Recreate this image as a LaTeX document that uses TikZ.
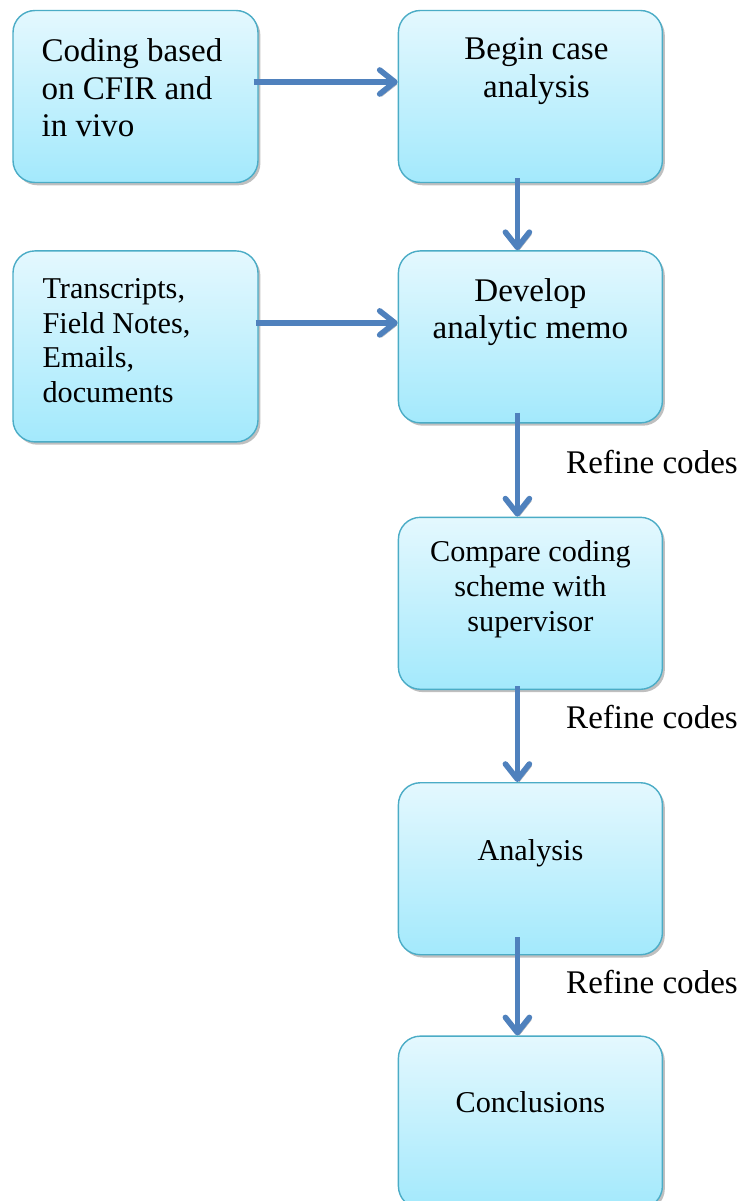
\documentclass[tikz,border=0pt]{standalone}
\usepackage{fontspec}
\setmainfont{Liberation Serif}
\usetikzlibrary{arrows.meta, positioning, shadows}
\definecolor{cTop}{RGB}{228,248,254}
\definecolor{cBottom}{RGB}{163,233,252}
\definecolor{cBorder}{RGB}{75,172,198}
\definecolor{cArrow}{RGB}{79,129,189}
\newcommand{\stagefont}{\fontsize{23.5}{26.5}\selectfont}
\newcommand{\smallstagefont}{\fontsize{21.5}{24.6}\selectfont}
\tikzset{
    stage/.style    ={rectangle, rounded corners=0.55cm, minimum width=6.6cm, minimum height=4.3cm, draw=cBorder, line width=1pt, top color=cTop, bottom color=cBottom, drop shadow={shadow xshift=0.06cm, shadow yshift=-0.07cm, fill=black!50, opacity=0.5}},
    stagetext/.style={inner sep=0pt, align=center, font=\stagefont},
    note/.style     ={inner sep=0pt, font=\stagefont},
    flowarrow/.style={draw=cArrow, line width=4pt, -{Straight Barb[length=3.8mm, width=6mm, round]}, preaction={draw=black!30, transform canvas={xshift=0.05cm, yshift=-0.06cm}}},
}

\begin{document}
\begin{tikzpicture}
    \useasboundingbox (0,0) rectangle (18.5,-30.025);
    % boxes
    \node[stage, minimum width=6.125cm] (coding) at (3.3875,-2.4125) {};
    \node[stage, right=3.475cm of coding] (begin) {};
    \node[stage, minimum width=6.125cm, minimum height=4.775cm, below=1.675cm of coding] (sources) {};
    \node[stage, below=1.675cm of begin] (memo) {};
    \node[stage, below=2.325cm of memo] (compare) {};
    \node[stage, below=2.3cm of compare] (analysis) {};
    \node[stage, below=2.0cm of analysis] (conclusions) {};
    % box texts
    \node[stagetext, align=left, below right=0.72cm and 0.725cm of coding.north west] (codingText) {Coding based\\on CFIR and\\in vivo};
    \node[stagetext, below=0.7cm of begin.north, xshift=0.15cm] (beginText) {Begin case\\analysis};
    \node[stagetext, align=left, font=\smallstagefont, below right=0.7cm and 0.75cm of sources.north west] (sourcesText) {Transcripts,\\Field Notes,\\Emails,\\documents};
    \node[stagetext, below=0.7cm of memo.north] (memoText) {Develop\\analytic memo};
    \node[stagetext, font=\smallstagefont, below=0.6cm of compare.north] (compareText) {Compare coding\\scheme with\\supervisor};
    \node[stagetext, font=\smallstagefont, below=1.42cm of analysis.north] (analysisText) {Analysis};
    \node[stagetext, font=\smallstagefont, below=1.4cm of conclusions.north] (conclusionsText) {Conclusions};
    % arrows
    \draw[flowarrow, shorten <=-0.125cm] ([yshift=0.3625cm]coding.east) -- ([yshift=0.3625cm]coding.east -| begin.west);
    \draw[flowarrow, shorten <=-0.075cm] ([yshift=0.5875cm]sources.east) -- ([yshift=0.5875cm]sources.east -| memo.west);
    \draw[flowarrow, shorten <=-0.125cm] ([xshift=-0.325cm]begin.south) -- ([xshift=-0.325cm]memo.north);
    \draw[flowarrow, shorten <=-0.275cm] ([xshift=-0.325cm]memo.south) -- ([xshift=-0.325cm]compare.north)
        node[note, pos=0.41, right=1.15cm] (refineMemo) {Refine codes};
    \draw[flowarrow, shorten <=-0.1cm] ([xshift=-0.325cm]compare.south) -- ([xshift=-0.325cm]analysis.north)
        node[note, pos=0.29, right=1.15cm] (refineCompare) {Refine codes};
    \draw[flowarrow, shorten <=-0.45cm] ([xshift=-0.325cm]analysis.south) -- ([xshift=-0.325cm]conclusions.north)
        node[note, pos=0.33, right=1.15cm] (refineAnalysis) {Refine codes};
\end{tikzpicture}
\end{document}
